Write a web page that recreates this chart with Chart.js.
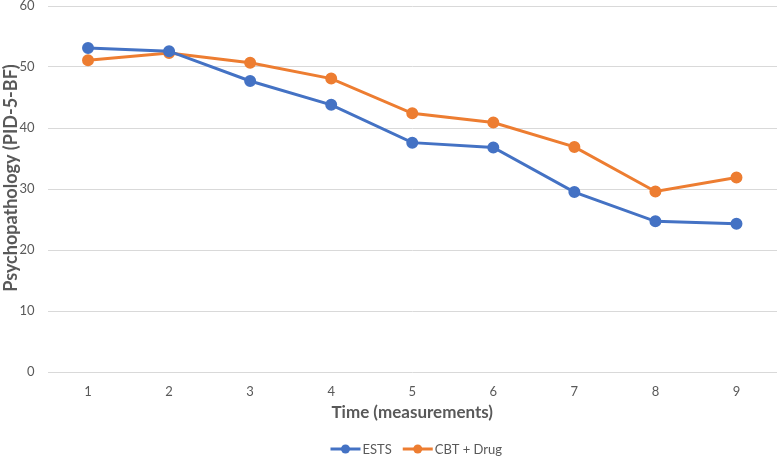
<!DOCTYPE html>
<html>
<head>
<meta charset="utf-8">
<script src="https://cdn.jsdelivr.net/npm/chart.js@4/dist/chart.umd.min.js"></script>
<style>
  html, body { margin: 0; padding: 0; background: #fff; overflow: hidden; }
  #wrap { width: 777px; height: 459px; }
</style>
</head>
<body>
<div id="wrap"><canvas id="chart"></canvas></div>
<script>
// Данные
const categories = ['1', '2', '3', '4', '5', '6', '7', '8', '9'];
const estsValues = [53.1, 52.6, 47.7, 43.8, 37.6, 36.8, 29.5, 24.7, 24.3];
const cbtValues = [51.1, 52.3, 50.7, 48.1, 42.4, 40.9, 36.9, 29.6, 31.9];
const seriesNames = ['ESTS', 'CBT + Drug'];
const yTicks = [0, 10, 20, 30, 40, 50, 60];
const yTitle = 'Psychopathology (PID-5-BF)';
const xTitle = 'Time (measurements)';

const BLUE = '#4472C4';
const ORANGE = '#ED7D31';
const TEXT = '#595959';
const FONT = 'Lato, "Open Sans", sans-serif';

// Заголовок оси Y и легенда снизу — рисуем сами
const extras = {
  id: 'extras',
  afterDraw(chart) {
    const { ctx, chartArea } = chart;
    ctx.save();

    // Y title
    ctx.translate(11, 178);
    ctx.rotate(-Math.PI / 2);
    ctx.fillStyle = TEXT;
    ctx.font = `bold 18px ${FONT}`;
    ctx.textAlign = 'center';
    ctx.textBaseline = 'middle';
    ctx.fillText(yTitle, 0, 0);
    ctx.setTransform(1, 0, 0, 1, 0, 0);

    // Legend
    ctx.font = `13px ${FONT}`;
    const markW = 30, gapText = 2, gapItem = 11;
    const items = chart.data.datasets.map(ds => ({
      label: ds.label, color: ds.borderColor, w: markW + gapText + ctx.measureText(ds.label).width
    }));
    const total = items.reduce((s, it) => s + it.w, 0) + gapItem * (items.length - 1);
    let x = (chartArea.left + chartArea.right) / 2 + 4 - total / 2;
    const y = 449;
    items.forEach(it => {
      ctx.strokeStyle = it.color;
      ctx.lineWidth = 3;
      ctx.beginPath();
      ctx.moveTo(x, y); ctx.lineTo(x + markW, y);
      ctx.stroke();
      ctx.fillStyle = it.color;
      ctx.beginPath();
      ctx.arc(x + markW / 2, y, 4.5, 0, Math.PI * 2);
      ctx.fill();
      ctx.fillStyle = TEXT;
      ctx.textAlign = 'left';
      ctx.textBaseline = 'middle';
      ctx.fillText(it.label, x + markW + gapText, y + 1);
      x += it.w + gapItem;
    });
    ctx.restore();
  }
};

new Chart(document.getElementById('chart'), {
  type: 'line',
  data: {
    labels: categories,
    datasets: [
      {
        label: seriesNames[0],
        data: estsValues,
        borderColor: BLUE,
        backgroundColor: BLUE,
        borderWidth: 3,
        pointRadius: 4.5,
        pointHoverRadius: 4.5,
        tension: 0
      },
      {
        label: seriesNames[1],
        data: cbtValues,
        borderColor: ORANGE,
        backgroundColor: ORANGE,
        borderWidth: 3,
        pointRadius: 4.5,
        pointHoverRadius: 4.5,
        tension: 0
      }
    ]
  },
  plugins: [extras],
  options: {
    responsive: true,
    maintainAspectRatio: false,
    animation: false,
    layout: { autoPadding: false, padding: { top: 6, right: 0, left: 0, bottom: 0 } },
    plugins: {
      tooltip: { enabled: false },
      legend: { display: false }
    },
    scales: {
      x: {
        offset: true,
        afterFit(axis) {
          axis.height = 87;
          axis.paddingLeft = 0;
          axis.paddingRight = 0;
        },
        grid: { display: false },
        border: { display: false },
        ticks: { color: TEXT, font: { family: FONT, size: 13 }, padding: 4 },
        title: {
          display: true,
          text: xTitle,
          color: TEXT,
          font: { family: FONT, size: 17, weight: 'bold' },
          padding: { top: 0, bottom: 36 }
        }
      },
      y: {
        min: 0,
        max: 60,
        afterBuildTicks(axis) {
          axis.ticks = yTicks.map(v => ({ value: v }));
        },
        afterFit(axis) {
          axis.width = 47.5;
          axis.paddingTop = 0;
          axis.paddingBottom = 0;
        },
        grid: { color: '#D9D9D9', lineWidth: 1, drawTicks: false },
        border: { display: false },
        ticks: { color: TEXT, font: { family: FONT, size: 13 }, padding: 13 },
        title: { display: false }
      }
    }
  }
});
</script>
</body>
</html>
